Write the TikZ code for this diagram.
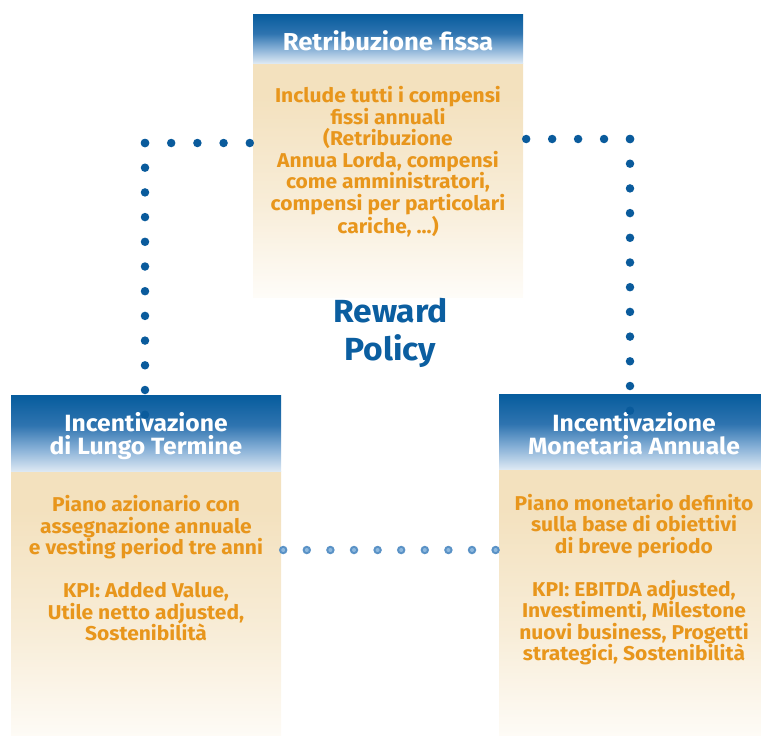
\documentclass[tikz,border=0pt]{standalone}
\usepackage{fontspec}
\setmainfont{Fira Sans}[FakeStretch=1.05]
\definecolor{hdrdark}{HTML}{065C9D}
\definecolor{hdrmid}{HTML}{2F74B0}
\definecolor{hdrsoft}{HTML}{85AFD6}
\definecolor{hdrlight}{HTML}{DCE8F3}
\definecolor{sand}{HTML}{F3E1BE}
\definecolor{sandmid}{HTML}{F8EDD8}
\definecolor{sandpale}{HTML}{FEFCF8}
\definecolor{txtorange}{HTML}{E8961C}
\definecolor{policyblue}{HTML}{0B5EA0}
\definecolor{dotblue}{HTML}{0A5B9C}
\definecolor{dotlight}{HTML}{5A92C6}
\definecolor{dotshine}{HTML}{8EB9DF}

% vertical shadings: 0bp is the bottom, the path covers 25bp..75bp
\pgfdeclareverticalshading{headshade}{100bp}{color(0bp)=(hdrlight); color(25bp)=(hdrlight); color(40bp)=(hdrsoft); color(55bp)=(hdrmid); color(75bp)=(hdrdark); color(100bp)=(hdrdark)}
\pgfdeclareverticalshading{bodyshade}{100bp}{color(0bp)=(sandpale); color(25bp)=(sandpale); color(45bp)=(sandmid); color(68bp)=(sand); color(100bp)=(sand)}

\tikzset{
  headbox/.style={rectangle, minimum width=270pt, inner sep=0pt, shading=headshade},
  headtext/.style={text=white, align=center, inner sep=0pt, anchor=north,
    font=\bfseries\fontsize{23.5}{22.5}\selectfont},
  bodybox/.style={rectangle, minimum width=270pt, inner sep=0pt, shading=bodyshade},
  bodytext/.style={text=txtorange, align=center, inner sep=0pt, anchor=north,
    font=\bfseries\fontsize{20}{21.5}\selectfont},
  policy/.style={text=policyblue, align=center, inner sep=0pt, anchor=north,
    font=\bfseries\fontsize{32}{37.5}\selectfont},
  dotpath/.style={draw=dotblue, line width=8.5pt, line cap=round},
  softdots/.style={draw=dotlight, line width=8.5pt, line cap=round}
}

\begin{document}
\begin{tikzpicture}[x=1pt, y=-1pt]
  \useasboundingbox (0,0) rectangle (761,736);
  \clip (0,0) rectangle (761,736);

  % fixed pay (top)
  \node[bodybox, minimum height=234pt] (tb) at (388,180) {};
  \node[headbox, minimum height=49pt] (th) at (388,38.5) {};
  \node[headtext, font=\bfseries\fontsize{24.5}{22}\selectfont] (tht) at (388,30.5) {Retribuzione fissa};
  \node[bodytext] (tt) at (388,86.5) {Include tutti i compensi\\fissi annuali\\(Retribuzione\\Annua Lorda, compensi\\come amministratori,\\compensi per particolari\\cariche, ...)};

  % long-term incentive (left)
  \node[bodybox, minimum height=272pt] (lb) at (146,607) {};
  \node[headbox, minimum height=76pt] (lh) at (146,433) {};
  \node[headtext] (lht) at (146,412.5) {Incentivazione\\di Lungo Termine};
  \node[bodytext] (lt) at (146,495.5) {Piano azionario con\\assegnazione annuale\\e vesting period tre anni\\[21.5pt]KPI: Added Value,\\Utile netto adjusted,\\Sostenibilità};

  % annual cash incentive (right)
  \node[bodybox, minimum height=273pt] (rb) at (634,605.5) {};
  \node[headbox, minimum height=75pt] (rh) at (634,431.5) {};
  \node[headtext] (rht) at (634,412.5) {Incentivazione\\Monetaria Annuale};
  \node[bodytext] (rt) at (634,494) {Piano monetario definito\\sulla base di obiettivi\\di breve periodo\\[21.5pt]KPI: EBITDA adjusted,\\Investimenti, Milestone\\nuovi business, Progetti\\strategici, Sostenibilità};

  % centre label
  \node[policy] (rp) at (390.5,298.5) {Reward\\Policy};

  % dotted links from the top box down to the two incentive boxes
  \coordinate (lc) at (145,143);
  \coordinate (le) at (145,415);
  \coordinate (rc) at (630,139);
  \coordinate (re) at (630,411);
  \draw[dotpath, dash pattern=on 0pt off 26.2pt] ([xshift=-3pt]tb.west |- lc) -- (lc);
  \draw[dotpath, dash pattern=on 0pt off 24.7pt] (lc) -- (le);
  \draw[dotpath, dash pattern=on 0pt off 25.95pt] ([xshift=3pt]tb.east |- rc) -- (rc);
  \draw[dotpath, dash pattern=on 0pt off 24.7pt] (rc) -- (re);

  % lighter dotted link between the two incentive boxes
  \coordinate (bl) at ([xshift=2pt]lb.east |- 0,550);
  \coordinate (br) at ([xshift=-3pt]rb.west |- 0,550);
  \draw[softdots, dash pattern=on 0pt off 23.6pt] (bl) -- (br);
  \draw[draw=dotshine, line width=4pt, line cap=round, dash pattern=on 0pt off 23.6pt,
        yshift=1.6pt] (bl) -- (br);
\end{tikzpicture}
\end{document}
